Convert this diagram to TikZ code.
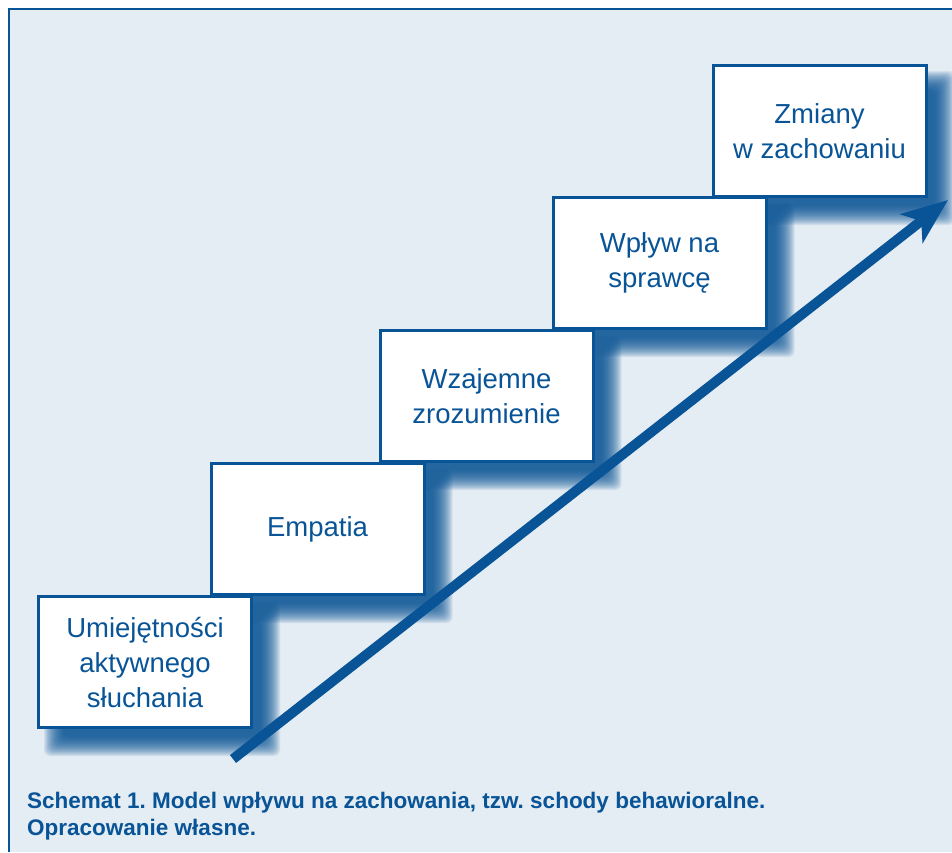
\documentclass[tikz,border=0pt]{standalone}
\usepackage{fontspec}
\setmainfont{Liberation Sans}
\usetikzlibrary{arrows.meta}

\definecolor{stepblue}{RGB}{8,84,150}
\definecolor{panelbg}{RGB}{228,236,244}

\pgfdeclarelayer{panel}
\pgfdeclarelayer{shade}
\pgfsetlayers{panel,shade,main}

\tikzset{
  stair/.style={
    draw=stepblue, line width=3pt, fill=white,
    minimum width=213pt, minimum height=131pt,
    inner sep=0pt, align=center, text=stepblue,
    font=\fontsize{27.5}{35}\selectfont
  },
  caption/.style={anchor=base west, inner sep=0pt, text=stepblue,
    font=\bfseries\fontsize{22.5}{27}\selectfont},
  rise/.style={draw=stepblue, line width=10pt, line cap=butt,
    -{Stealth[length=46pt, width=36pt, inset=12pt]}},
  softshade/.style={fill=stepblue, fill opacity=0.085, rounded corners=6pt}
}

% soft blue shadow falling down and to the right of a box
\newcommand{\stairshade}[1]{%
  \begin{pgfonlayer}{shade}
    \foreach \e in {10,9,...,-10}{
      \path[softshade]
        ([shift={(17-\e,17-\e)}]#1.north west) rectangle
        ([shift={(17+\e,17+\e)}]#1.south east);
    }
  \end{pgfonlayer}}

\begin{document}
\frenchspacing
\begin{tikzpicture}[x=1pt, y=-1pt]
  % canvas and panel
  \useasboundingbox (0,0) rectangle (952,852);
  \begin{pgfonlayer}{panel}
    \fill[white] (0,0) rectangle (952,852);
    \fill[panelbg] (9,9) rectangle (952,852);
    \draw[stepblue, line width=2.5pt] (9,852) -- (9,9) -- (952,9);
  \end{pgfonlayer}

  % the stairs
  \node[stair] (s5) at (819.5,131) {Zmiany\\w zachowaniu};
  \node[stair] (s4) at (659.5,263) {Wpływ na\\sprawcę};
  \node[stair] (s3) at (486.5,396) {Wzajemne\\zrozumienie};
  \node[stair] (s2) at (317.5,529) {Empatia};
  \node[stair] (s1) at (145,662) {Umiejętności\\aktywnego\\słuchania};

  \stairshade{s1}\stairshade{s2}\stairshade{s3}\stairshade{s4}\stairshade{s5}

  % rising arrow
  \coordinate (tail) at (233,759);
  \coordinate (tip) at (948,200);
  \draw[rise] (tail) -- (tip);

  % caption
  \node[caption] (cap1) at (27,808) {Schemat 1. Model wpływu na zachowania, tzw. schody behawioralne.};
  \node[caption] (cap2) at (27,835) {Opracowanie własne.};
\end{tikzpicture}
\end{document}
